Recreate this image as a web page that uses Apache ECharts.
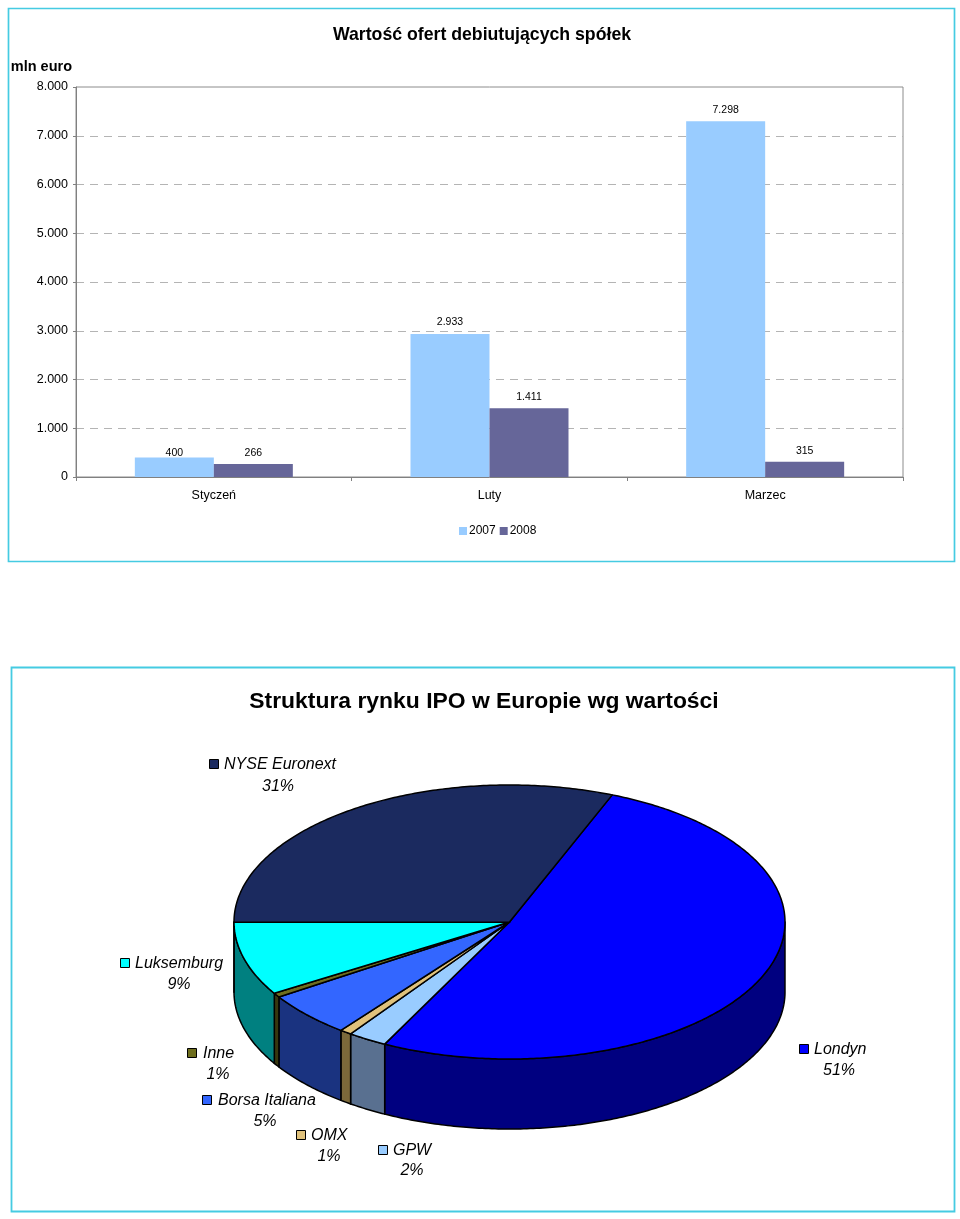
<!DOCTYPE html>
<html>
<head>
<meta charset="utf-8">
<style>html,body{margin:0;padding:0;background:#fff}#c{width:960px;height:1219px}</style>
<script src="https://cdn.jsdelivr.net/npm/echarts@6/dist/echarts.min.js"></script>
</head>
<body>
<div id="c"></div>
<script>
// ---- data ----
const months = ['Styczeń', 'Luty', 'Marzec'];
const values2007 = [400, 2933, 7298];
const values2008 = [266, 1411, 315];
const pieNames = ['Londyn', 'GPW', 'OMX', 'Borsa Italiana', 'Inne', 'Luksemburg', 'NYSE Euronext'];
// estimated shares; the printed labels are these rounded
const pieValues = [51.4, 2.3, 0.7, 5.3, 0.5, 8.7, 31.1];

// ---- styles ----
const pieTopColors = ['#0000ff', '#99ccff', '#e0c27c', '#3366ff', '#6e6e1e', '#00ffff', '#1b2a5f'];
const pieWallColors = ['#000080', '#597090', '#7c693a', '#1a3380', '#37370f', '#008080', '#0d1530'];
// marker x, marker y, text x, percent centre x, percent y
const pieLabelPlaces = [
  [799, 1049, 814, 839, 1070],
  [378, 1150, 393, 412, 1170],
  [296, 1135, 311, 329, 1156],
  [202, 1100, 218, 265, 1121],
  [187, 1053, 203, 218, 1074],
  [120, 963, 135, 179, 984],
  [209, 764, 224, 278, 786]
];
const PIE = {cx: 509.5, cy: 922, rx: 275.5, ry: 137, depth: 70, start: 21.9};
const FONT = '"Liberation Sans", Arial, sans-serif';

const dotted = v => String(v).replace(/\B(?=(\d{3})+(?!\d))/g, '.');

const total = pieValues.reduce((a, b) => a + b, 0);
function sliceRange(i) {
  let sum = 0;
  for (let k = 0; k < i; k++) sum += pieValues[k];
  return [PIE.start + sum / total * 360, PIE.start + (sum + pieValues[i]) / total * 360];
}
function rimPoint(deg, dy) {
  const a = deg * Math.PI / 180;
  return [PIE.cx + PIE.rx * Math.sin(a), PIE.cy - PIE.ry * Math.cos(a) + (dy || 0)];
}
function arcPoints(a0, a1, dy) {
  const n = Math.max(2, Math.ceil(Math.abs(a1 - a0) * 1.5));
  const out = [];
  for (let j = 0; j <= n; j++) out.push(rimPoint(a0 + (a1 - a0) * j / n, dy));
  return out;
}
function renderWall(params) {
  const i = params.dataIndex;
  const [s, e] = sliceRange(i);
  const a0 = Math.max(s, 90), a1 = Math.min(e, 270);
  if (a1 <= a0) return {type: 'group', children: []};
  const pts = arcPoints(a0, a1, 0).concat(arcPoints(a1, a0, PIE.depth));
  return {type: 'polygon', shape: {points: pts},
    style: {fill: pieWallColors[i], stroke: '#000', lineWidth: 1.5, lineJoin: 'round'}};
}
function renderTop(params) {
  const i = params.dataIndex;
  const [s, e] = sliceRange(i);
  const pts = [[PIE.cx, PIE.cy]].concat(arcPoints(s, e, 0));
  const p = pieLabelPlaces[i];
  return {type: 'group', children: [
    {type: 'polygon', shape: {points: pts},
      style: {fill: pieTopColors[i], stroke: '#000', lineWidth: 1.5, lineJoin: 'round'}},
    {type: 'rect', shape: {x: p[0] + 0.5, y: p[1] - 4.5, width: 9, height: 9},
      style: {fill: pieTopColors[i], stroke: '#000', lineWidth: 1}},
    {type: 'text', style: {text: pieNames[i], x: p[2], y: p[1] + 1, fill: '#000', align: 'left', verticalAlign: 'middle',
      font: 'italic 16px ' + FONT}},
    {type: 'text', style: {text: Math.round(pieValues[i]) + '%', x: p[3], y: p[4] + 1, fill: '#000', align: 'center', verticalAlign: 'middle',
      font: 'italic 16px ' + FONT}}
  ]};
}

const barLabel = {show: true, position: 'top', distance: 7, fontSize: 10.5, fontFamily: FONT, color: '#000',
  formatter: p => dotted(p.value)};

const chart = echarts.init(document.getElementById('c'), null, {renderer: 'canvas'});
chart.setOption({
  animation: false,
  backgroundColor: '#fff',
  title: [
    {text: 'Wartość ofert debiutujących spółek', left: 477, top: 21, textAlign: 'center',
      textStyle: {fontFamily: FONT, fontSize: 17.7, fontWeight: 'bold', color: '#000'}},
    {text: 'Struktura rynku IPO w Europie wg wartości', left: 479, top: 685, textAlign: 'center',
      textStyle: {fontFamily: FONT, fontSize: 22.9, fontWeight: 'bold', color: '#000'}}
  ],
  graphic: [
    {type: 'rect', silent: true, shape: {x: 8.5, y: 8.5, width: 946, height: 553}, style: {fill: 'none', stroke: '#45cbe2', lineWidth: 1.7}},
    {type: 'rect', silent: true, shape: {x: 11.5, y: 667.5, width: 943, height: 544}, style: {fill: 'none', stroke: '#45cbe2', lineWidth: 1.8}}
  ],
  legend: {
    left: 454, top: 520, itemWidth: 8, itemHeight: 8, itemGap: 4, icon: 'rect',
    data: ['2007', '2008'],
    textStyle: {fontFamily: FONT, fontSize: 12, color: '#000', padding: [0, 0, 0, -3]}
  },
  grid: {left: 76, top: 87, width: 827, height: 390, show: true, borderColor: '#8c8c8c', borderWidth: 1, backgroundColor: 'transparent'},
  xAxis: {
    type: 'category', data: months,
    axisLine: {lineStyle: {color: '#808080'}},
    axisTick: {show: true, length: 4, alignWithLabel: false, lineStyle: {color: '#808080'}},
    axisLabel: {fontFamily: FONT, fontSize: 12.5, color: '#000', margin: 12}
  },
  yAxis: {
    type: 'value', min: 0, max: 8000, interval: 1000,
    name: 'mln euro', nameLocation: 'end', nameGap: 13,
    nameTextStyle: {fontFamily: FONT, fontSize: 14.5, fontWeight: 'bold', color: '#000', align: 'right', padding: [0, 4, 0, 0]},
    axisLine: {show: true, lineStyle: {color: '#808080'}},
    axisTick: {show: true, length: 3, lineStyle: {color: '#808080'}},
    axisLabel: {fontFamily: FONT, fontSize: 12.5, color: '#000', margin: 8, padding: [2, 0, 0, 0], formatter: v => dotted(v)},
    splitLine: {show: true, showMinLine: false, showMaxLine: false, lineStyle: {color: '#b4b4b4', type: [8, 6], width: 1}}
  },
  series: [
    {name: '2007', type: 'bar', data: values2007, barWidth: 79, barGap: 0, itemStyle: {color: '#99ccff'}, label: barLabel,
      labelLayout: p => ({dy: p.dataIndex === 0 ? 8 : 1})},
    {name: '2008', type: 'bar', data: values2008, barWidth: 79, barGap: 0, itemStyle: {color: '#666699'}, label: barLabel,
      labelLayout: p => ({dy: p.dataIndex === 1 ? 1 : 2})},
    {name: 'Ściany', type: 'custom', coordinateSystem: 'none', renderItem: renderWall, data: pieValues, silent: true, z: 3},
    {name: 'Struktura', type: 'custom', coordinateSystem: 'none', renderItem: renderTop, data: pieValues, silent: true, z: 4}
  ]
});
</script>
</body>
</html>
